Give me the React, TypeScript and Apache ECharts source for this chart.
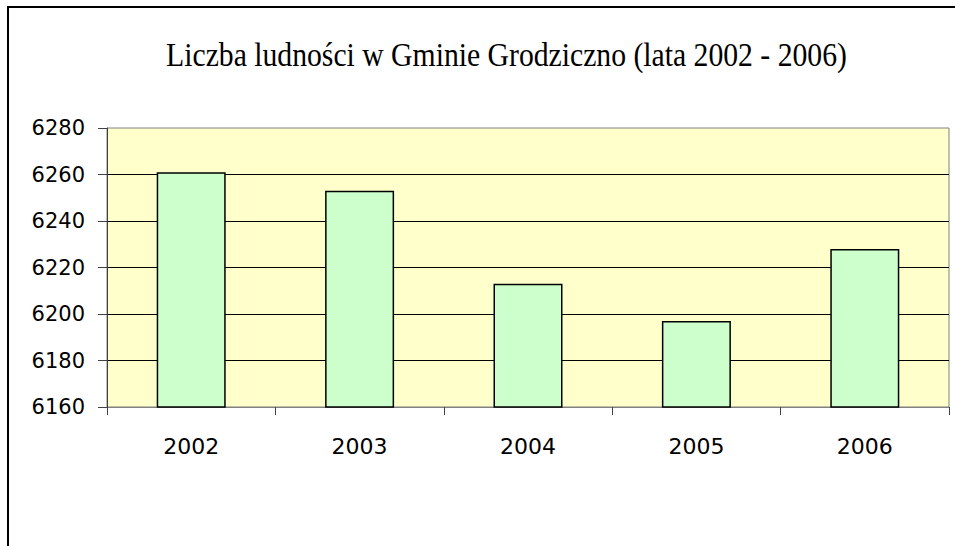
import React, { useEffect, useRef } from "react";
import * as echarts from "echarts";

const years = ["2002", "2003", "2004", "2005", "2006"];
const population = [6261, 6253, 6213, 6197, 6228];
const yMin = 6160;
const yMax = 6280;
const yStep = 20;
const titleText = "Liczba ludności w Gminie Grodziczno (lata 2002 - 2006)";

function measure(text: string, font: string): number {
  const c = document.createElement("canvas");
  const ctx = c.getContext("2d");
  if (!ctx) return 680;
  ctx.font = font;
  return ctx.measureText(text).width;
}

export default function App() {
  const ref = useRef<HTMLDivElement>(null);
  useEffect(() => {
    document.body.style.margin = "0";
    if (!ref.current) return;
    const chart = echarts.init(ref.current, undefined, { renderer: "svg" });
    const titleFont = '33px "Liberation Serif"';
    const natural = measure(titleText, titleFont);
    const sx = 681 / natural;
    chart.setOption({
      animation: false,
      backgroundColor: "#ffffff",
      grid: {
        left: 107,
        top: 128,
        right: 6,
        bottom: 139,
        show: true,
        backgroundColor: "#FFFFCC",
        borderColor: "#808080",
        borderWidth: 1,
      },
      graphic: [
        {
          type: "rect",
          shape: { x: 8, y: 7, width: 980, height: 600 },
          style: { fill: "none", stroke: "#000", lineWidth: 2 },
          z: 100,
        },
        {
          type: "text",
          x: 506.5,
          y: 55,
          scaleX: sx,
          style: {
            text: titleText,
            font: titleFont,
            fill: "#000",
            align: "center",
            verticalAlign: "middle",
          },
        },
      ],
      xAxis: {
        type: "category",
        data: years,
        boundaryGap: true,
        axisLine: { show: true, lineStyle: { color: "#808080", width: 1 } },
        axisTick: { show: true, length: 8, lineStyle: { color: "#404040" } },
        axisLabel: {
          color: "#000",
          fontFamily: "DejaVu Sans",
          fontSize: 22,
          margin: 28,
        },
        splitLine: { show: false },
      },
      yAxis: {
        type: "value",
        min: yMin,
        max: yMax,
        interval: yStep,
        axisLine: { show: true, lineStyle: { color: "#404040", width: 1 } },
        axisTick: { show: true, length: 9, lineStyle: { color: "#404040" } },
        axisLabel: {
          color: "#000",
          fontFamily: "DejaVu Sans",
          fontSize: 21,
          margin: 22,
          formatter: (v: number) => String(v),
        },
        splitLine: {
          show: true,
          showMinLine: false,
          showMaxLine: false,
          lineStyle: { color: "#000", width: 1 },
        },
      },
      series: [
        {
          type: "bar",
          data: population,
          barWidth: 69,
          itemStyle: { color: "#CCFFCC", borderColor: "#000", borderWidth: 1.5 },
        },
      ],
    });
    return () => chart.dispose();
  }, []);
  return <div ref={ref} style={{ width: 955, height: 546 }} />;
}
